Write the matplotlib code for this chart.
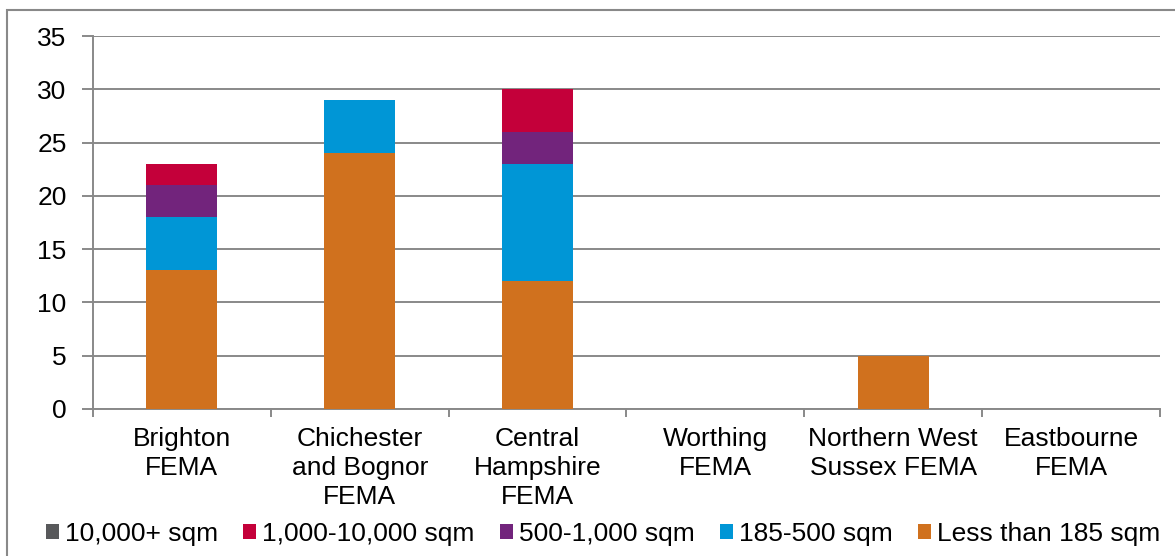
import matplotlib.pyplot as plt
import numpy as np
from matplotlib.patches import Rectangle

plt.rcParams['font.family'] = ['Liberation Sans', 'DejaVu Sans']

# FEMA areas and floorspace bands
areas = ['Brighton\nFEMA', 'Chichester\nand Bognor\nFEMA', 'Central\nHampshire\nFEMA',
         'Worthing\nFEMA', 'Northern West\nSussex FEMA', 'Eastbourne\nFEMA']
less_185 = [13, 24, 12, 0, 5, 0]
s185_500 = [5, 5, 11, 0, 0, 0]
s500_1000 = [3, 0, 3, 0, 0, 0]
s1000_10000 = [2, 0, 4, 0, 0, 0]
s10000_plus = [0, 0, 0, 0, 0, 0]

# stacked bottom-up
series = [
    ('Less than 185 sqm', less_185, '#D0711E'),
    ('185-500 sqm', s185_500, '#0096D6'),
    ('500-1,000 sqm', s500_1000, '#72247C'),
    ('1,000-10,000 sqm', s1000_10000, '#C4003A'),
    ('10,000+ sqm', s10000_plus, '#58595B'),
]

FS = 19
GREY = '#898989'

fig = plt.figure(figsize=(11.75, 5.56), dpi=100)
ax = fig.add_axes([93 / 1175, 1 - 409 / 556, (1160 - 93) / 1175, (409 - 36) / 556])

x = np.arange(len(areas))
bottom = np.zeros(len(areas))
handles = {}
for name, vals, col in series:
    b = ax.bar(x, vals, 0.4, bottom=bottom, color=col, label=name, zorder=3)
    handles[name] = b
    bottom += np.array(vals)

ax.set_xlim(-0.5, len(areas) - 0.5)
ax.set_ylim(0, 35)
ax.set_yticks(range(0, 36, 5))
ax.yaxis.grid(True, color=GREY, linewidth=1.4, zorder=0)
ax.set_axisbelow(True)

ax.set_xticks(x)
ax.set_xticklabels(areas, fontsize=FS, linespacing=1.25, va='top')
ax.tick_params(axis='x', length=0, pad=13)
ax.set_xticks(np.arange(-0.5, len(areas)), minor=True)
ax.tick_params(axis='x', which='minor', length=6, color=GREY, width=1.4)
ax.tick_params(axis='y', length=8, color=GREY, width=1.4, labelsize=FS, pad=11)

for side in ['top', 'right']:
    ax.spines[side].set_visible(False)
for side in ['left', 'bottom']:
    ax.spines[side].set_color(GREY)
    ax.spines[side].set_linewidth(1.4)

# legend order as in the chart key
order = ['10,000+ sqm', '1,000-10,000 sqm', '500-1,000 sqm', '185-500 sqm', 'Less than 185 sqm']
fig.legend([handles[n] for n in order], order, loc='center', bbox_to_anchor=(603 / 1175, 1 - 534 / 556),
           ncol=5, frameon=False, fontsize=FS, handlelength=0.5, handleheight=0.5,
           handletextpad=0.23, columnspacing=0.95, borderpad=0, borderaxespad=0)

# outer chart border
fig.add_artist(Rectangle((7 / 1175, -0.2), 1.2, 1.2 - 10 / 556, transform=fig.transFigure,
                         fill=False, edgecolor=GREY, linewidth=1.5, clip_on=False))

fig.savefig('out.png', dpi=100)
